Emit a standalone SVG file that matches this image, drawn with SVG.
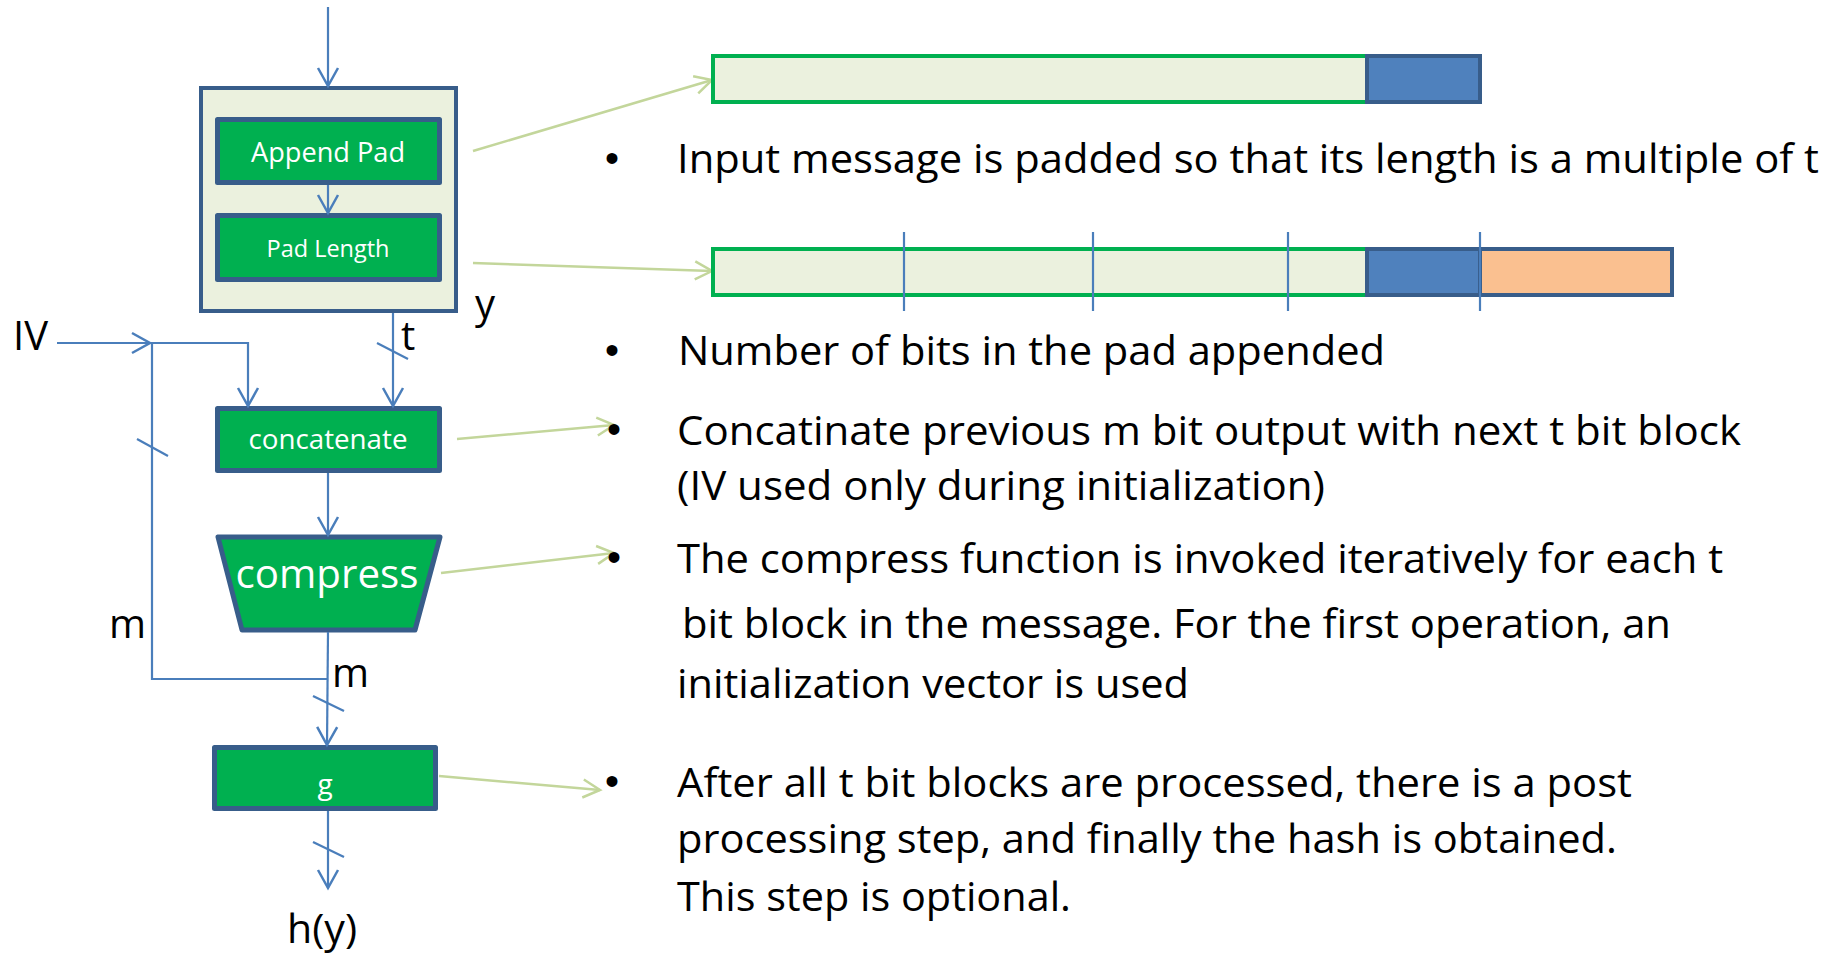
<svg xmlns="http://www.w3.org/2000/svg" width="1845" height="954" viewBox="0 0 1845 954">
<defs>
<style>
.box{fill:#00B050;stroke:#385D8A;stroke-width:5;stroke-linejoin:round}
.wt{fill:#ffffff;font-family:"Open Sans","Noto Sans",sans-serif;text-anchor:middle}
.conn{fill:none;stroke:#4A7EBB;stroke-width:2.2}
.gconn{fill:none;stroke:#C3D69B;stroke-width:2.5}
.lbl{fill:#000;font-family:"Open Sans","Noto Sans",sans-serif;font-size:40px}
.bt{fill:#000;font-family:"Open Sans","Noto Sans",sans-serif;font-size:41px}
.bul{fill:#000;font-family:"Liberation Sans",sans-serif;font-size:40px;text-anchor:middle}
.div{stroke:#4A7EBB;stroke-width:2.2}
</style>
<marker id="ab" markerUnits="userSpaceOnUse" markerWidth="24" markerHeight="24" viewBox="-20 -12 22 24" refX="0" refY="0" orient="auto">
<path d="M-18,-10 L0,0 L-18,10" fill="none" stroke="#4A7EBB" stroke-width="2.5"/>
</marker>
<marker id="ag" markerUnits="userSpaceOnUse" markerWidth="24" markerHeight="24" viewBox="-20 -12 22 24" refX="0" refY="0" orient="auto">
<path d="M-17,-9 L0,0 L-17,9" fill="none" stroke="#C3D69B" stroke-width="2.5"/>
</marker>
</defs>
<rect width="1845" height="954" fill="#ffffff"/>

<g id="padbox">
<rect x="201" y="88" width="255" height="223" fill="#EBF1DE" stroke="#385D8A" stroke-width="4"/>
</g>
<g id="appendpad">
<rect class="box" x="217.5" y="119.5" width="222" height="63"/>
<text class="wt" x="328" y="162" font-size="27" textLength="154" lengthAdjust="spacingAndGlyphs">Append Pad</text>
</g>
<g id="padlength">
<rect class="box" x="217.5" y="215.5" width="222" height="64"/>
<text class="wt" x="328" y="257" font-size="24" textLength="123" lengthAdjust="spacingAndGlyphs">Pad Length</text>
</g>
<g id="concatenate">
<rect class="box" x="217.5" y="408.5" width="222" height="62"/>
<text class="wt" x="328" y="449" font-size="27" textLength="159" lengthAdjust="spacingAndGlyphs">concatenate</text>
</g>
<g id="compress">
<polygon class="box" points="218,537 440,537 415,630 242,630"/>
<text class="wt" x="327" y="588" font-size="40" textLength="183" lengthAdjust="spacingAndGlyphs">compress</text>
</g>
<g id="g">
<rect class="box" x="214.5" y="747.5" width="221" height="61"/>
<text class="wt" x="325" y="794" font-size="28">g</text>
</g>

<g id="connectors">
<line class="conn" x1="328" y1="7" x2="328" y2="86" marker-end="url(#ab)"/>
<line class="conn" x1="328" y1="185" x2="328" y2="213" marker-end="url(#ab)"/>
<line class="conn" x1="393" y1="313" x2="393" y2="406" marker-end="url(#ab)"/>
<line class="conn" x1="377" y1="343" x2="408" y2="359"/>
<line class="conn" x1="57" y1="343" x2="150" y2="343" marker-end="url(#ab)"/>
<polyline class="conn" points="150,343 248,343 248,406" marker-end="url(#ab)"/>
<polyline class="conn" points="152,343 152,679 327,679"/>
<line class="conn" x1="137" y1="439" x2="168" y2="456"/>
<line class="conn" x1="328" y1="473" x2="328" y2="535" marker-end="url(#ab)"/>
<line class="conn" x1="328" y1="632" x2="327" y2="745" marker-end="url(#ab)"/>
<line class="conn" x1="313" y1="696" x2="344" y2="711"/>
<line class="conn" x1="328" y1="811" x2="328" y2="888" marker-end="url(#ab)"/>
<line class="conn" x1="313" y1="842" x2="344" y2="857"/>
<line class="gconn" x1="473" y1="151" x2="712" y2="80" marker-end="url(#ag)"/>
<line class="gconn" x1="473" y1="263" x2="712" y2="271" marker-end="url(#ag)"/>
<line class="gconn" x1="457" y1="439" x2="614" y2="425" marker-end="url(#ag)"/>
<line class="gconn" x1="441" y1="573" x2="614" y2="553" marker-end="url(#ag)"/>
<line class="gconn" x1="439" y1="776" x2="600" y2="790" marker-end="url(#ag)"/>
</g>

<g id="labels">
<text class="lbl" x="13" y="350">IV</text>
<text class="lbl" x="401" y="350">t</text>
<text class="lbl" x="475" y="318">y</text>
<text class="lbl" x="109" y="638">m</text>
<text class="lbl" x="332" y="687">m</text>
<text class="lbl" x="287" y="943" textLength="70" lengthAdjust="spacingAndGlyphs">h(y)</text>
</g>

<g id="bar1">
<rect x="713" y="56" width="654" height="46" fill="#EBF1DE" stroke="#00B050" stroke-width="4"/>
<rect x="1367" y="56" width="113" height="46" fill="#4F81BD" stroke="#385D8A" stroke-width="4"/>
</g>
<g id="bar2">
<rect x="713" y="249" width="654" height="46" fill="#EBF1DE" stroke="#00B050" stroke-width="4"/>
<rect x="1367" y="249" width="113" height="46" fill="#4F81BD" stroke="#385D8A" stroke-width="4"/>
<rect x="1480" y="249" width="192" height="46" fill="#FAC090" stroke="#385D8A" stroke-width="4"/>
<line class="div" x1="904" y1="232" x2="904" y2="311"/>
<line class="div" x1="1093" y1="232" x2="1093" y2="311"/>
<line class="div" x1="1288" y1="232" x2="1288" y2="311"/>
<line class="div" x1="1480" y1="232" x2="1480" y2="311"/>
</g>

<g id="bullets">
<text class="bul" x="612" y="172">•</text>
<text class="bt" x="677" y="173" textLength="1142" lengthAdjust="spacingAndGlyphs">Input message is padded so that its length is a multiple of t</text>
<text class="bul" x="612" y="364">•</text>
<text class="bt" x="678" y="365" textLength="707" lengthAdjust="spacingAndGlyphs">Number of bits in the pad appended</text>
<text class="bul" x="614" y="443">•</text>
<text class="bt" x="677" y="445" textLength="1064" lengthAdjust="spacingAndGlyphs">Concatinate previous m bit output with next t bit block</text>
<text class="bt" x="677" y="500" textLength="648" lengthAdjust="spacingAndGlyphs">(IV used only during initialization)</text>
<text class="bul" x="614" y="571">•</text>
<text class="bt" x="677" y="573" textLength="1046" lengthAdjust="spacingAndGlyphs">The compress function is invoked iteratively for each t</text>
<text class="bt" x="682" y="638" textLength="989" lengthAdjust="spacingAndGlyphs">bit block in the message. For the first operation, an</text>
<text class="bt" x="677" y="698" textLength="512" lengthAdjust="spacingAndGlyphs">initialization vector is used</text>
<text class="bul" x="612" y="795">•</text>
<text class="bt" x="677" y="797" textLength="955" lengthAdjust="spacingAndGlyphs">After all t bit blocks are processed, there is a post</text>
<text class="bt" x="677" y="853" textLength="940" lengthAdjust="spacingAndGlyphs">processing step, and finally the hash is obtained.</text>
<text class="bt" x="677" y="911" textLength="394" lengthAdjust="spacingAndGlyphs">This step is optional.</text>
</g>
</svg>
